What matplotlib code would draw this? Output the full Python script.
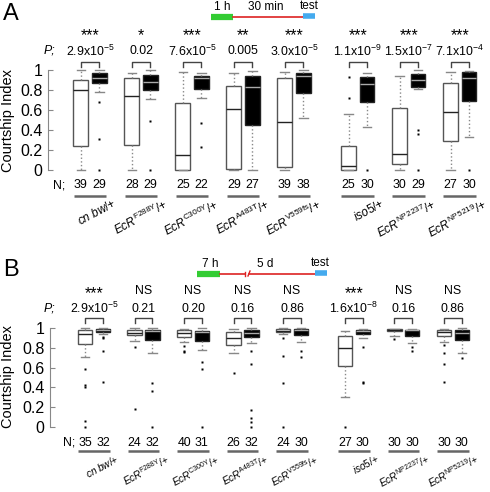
import numpy as np
import matplotlib as mpl
mpl.use('Agg')
import matplotlib.pyplot as plt
from matplotlib import font_manager

names = {f.name for f in font_manager.fontManager.ttflist}
NARROW = 'Liberation Sans Narrow' if 'Liberation Sans Narrow' in names else 'Liberation Sans'
k = 1.0 if NARROW == 'Liberation Sans Narrow' else 0.85  # shrink if no narrow face

plt.rcParams['font.family'] = [NARROW, 'DejaVu Sans']
plt.rcParams['mathtext.fontset'] = 'custom'
plt.rcParams['mathtext.rm'] = NARROW
plt.rcParams['mathtext.it'] = NARROW + ':italic'
plt.rcParams['mathtext.bf'] = NARROW + ':bold'

# ---- data ----
genotypes = [r'$\mathit{cn\ bw}$/+', r'$\mathit{EcR}^{\mathrm{F288Y}}$/+',
             r'$\mathit{EcR}^{\mathrm{C300Y}}$/+', r'$\mathit{EcR}^{\mathrm{A483T}}$/+',
             r'$\mathit{EcR}^{\mathrm{V559fs}}$/+', r'$\mathit{iso5}$/+',
             r'$\mathit{EcR}^{\mathrm{NP2237}}$/+', r'$\mathit{EcR}^{\mathrm{NP5219}}$/+']
group_pos = [0, 1, 2, 3, 4, 5.25, 6.25, 7.25]

# box stats: whislo, q1, med, q3, whishi
a_white = [[0, 0.24, 0.80, 0.90, 1.0], [0, 0.25, 0.74, 0.92, 0.975],
           [0, 0, 0.15, 0.675, 0.977], [0, 0.01, 0.61, 0.84, 0.973],
           [0, 0.037, 0.48, 0.917, 0.983], [0, 0, 0.04, 0.24, 0.56],
           [0, 0.063, 0.16, 0.62, 0.94], [0, 0.29, 0.58, 0.867, 0.983]]
a_white_fl = [[], [], [], [], [], [0.72, 0.93], [], []]
a_black = [[0.78, 0.87, 0.92, 0.97, 1.0], [0.71, 0.80, 0.88, 0.95, 1.0],
           [0.72, 0.81, 0.92, 0.94, 0.973], [0, 0.45, 0.835, 0.94, 0.99],
           [0.52, 0.767, 0.94, 0.973, 1.0], [0.43, 0.68, 0.857, 0.927, 0.97],
           [0.81, 0.835, 0.90, 0.96, 1.0], [0.335, 0.69, 0.923, 0.977, 0.987]]
a_black_fl = [[0.68, 0.31, 0.0], [0.49, 0.0], [0.47, 0.23], [], [], [0.0],
              [0.40, 0.36, 0.0], [0.0]]
a_n_white = [39, 28, 25, 29, 39, 25, 30, 27]
a_n_black = [29, 29, 22, 27, 38, 30, 29, 30]
a_p = ['2.9x10$^{-5}$', '0.02', '7.6x10$^{-5}$', '0.005', '3.0x10$^{-5}$',
       '1.1x10$^{-9}$', '1.5x10$^{-7}$', '7.1x10$^{-4}$']
a_stars = ['***', '*', '***', '**', '***', '***', '***', '***']

b_white = [[0.71, 0.837, 0.94, 0.98, 1.0], [0.87, 0.927, 0.953, 0.983, 1.0],
           [0.86, 0.913, 0.95, 0.98, 0.993], [0.743, 0.833, 0.903, 0.963, 0.987],
           [0.943, 0.957, 0.973, 0.99, 1.0], [0.303, 0.62, 0.80, 0.92, 0.97],
           [0.92, 0.967, 0.977, 0.987, 0.993], [0.863, 0.92, 0.96, 0.977, 0.993]]
b_white_fl = [[0.59, 0.42, 0.40, 0.06, 0.0], [0.81, 0.177], [0.817, 0.77, 0.76],
              [0.547], [0.897, 0.713, 0.447, 0.0], [0.0], [0.887],
              [0.827, 0.747, 0.637, 0.453]]
b_black = [[0.943, 0.963, 0.98, 0.993, 1.0], [0.747, 0.877, 0.973, 0.983, 1.0],
           [0.78, 0.87, 0.957, 0.97, 1.0], [0.85, 0.913, 0.95, 0.98, 1.0],
           [0.86, 0.93, 0.983, 0.993, 1.0], [0.897, 0.943, 0.967, 0.98, 0.99],
           [0.847, 0.923, 0.977, 0.98, 0.99], [0.75, 0.883, 0.953, 0.98, 1.0]]
b_black_fl = [[0.91, 0.90, 0.77, 0.45], [0.447, 0.363, 0.0], [0.66, 0.587, 0.0],
              [0.77, 0.64, 0.17, 0.09, 0.05, 0.0], [0.77, 0.71],
              [0.813, 0.45, 0.44], [0.81, 0.767], [0.70]]
b_n_white = [35, 24, 40, 26, 24, 27, 30, 30]
b_n_black = [32, 32, 31, 32, 30, 30, 30, 30]
b_p = ['2.9x10$^{-5}$', '0.21', '0.20', '0.16', '0.86',
       '1.6x10$^{-8}$', '0.16', '0.86']
b_stars = ['***', 'NS', 'NS', 'NS', 'NS', '***', 'NS', 'NS']

W, H = 490, 492
fig = plt.figure(figsize=(W / 100, H / 100), dpi=100)


def px_axes(left, top, right, bottom):
    return fig.add_axes([left / W, 1 - bottom / H, (right - left) / W, (bottom - top) / H])


def to_stats(rows, fliers):
    return [dict(whislo=r[0], q1=r[1], med=r[2], q3=r[3], whishi=r[4], fliers=f)
            for r, f in zip(rows, fliers)]


def draw_panel(ax, white, white_fl, black, black_fl, n_w, n_b, pvals, stars,
               xlim, y_star, y_p, y_br, y_n, y_ul, y_lab, x_P, x_N, lab_fs):
    pos = np.array(group_pos)
    common = dict(widths=0.29, capwidths=0.17, manage_ticks=False, patch_artist=True,
                  whiskerprops=dict(color='#888888', ls=':', lw=1),
                  capprops=dict(color='#888888', lw=1),
                  flierprops=dict(marker='s', ms=1.6, mfc='k', mec='none'))
    r1 = ax.bxp(to_stats(white, white_fl), positions=pos - 0.18,
                boxprops=dict(facecolor='white', edgecolor='#555555', lw=1),
                medianprops=dict(color='#222222', lw=1), **common)
    r2 = ax.bxp(to_stats(black, black_fl), positions=pos + 0.18,
                boxprops=dict(facecolor='black', edgecolor='#222222', lw=1),
                medianprops=dict(color='#aaaaaa', lw=1), **common)
    for r in (r1, r2):
        for arts in r.values():
            for a in arts:
                a.set_clip_on(False)

    ax.set_xlim(*xlim)
    ax.set_ylim(0, 1)
    ax.set_yticks([0, 0.2, 0.4, 0.6, 0.8, 1])
    ax.set_yticklabels(['0', '0.2', '0.4', '0.6', '0.8', '1'], fontsize=11.5,
                       family='Liberation Sans')
    ax.tick_params(axis='y', direction='in', length=3.5, color='#888888', pad=4)
    ax.set_xticks([])
    for s in ('top', 'right', 'bottom'):
        ax.spines[s].set_visible(False)
    ax.spines['left'].set_color('#888888')
    ax.spines['left'].set_bounds(0, 1)
    ax.patch.set_alpha(0)

    ax.text(x_P, y_p, 'P;', style='italic', fontsize=10.5 * k, ha='right', va='center')
    ax.text(x_N, y_n, 'N;', fontsize=10.5 * k, ha='right', va='center')
    for i, p in enumerate(pos):
        if stars[i] == 'NS':
            ax.text(p, y_star, 'NS', fontsize=10.5 * k, ha='center', va='center')
        else:
            ax.text(p, y_star - 0.065, stars[i], fontsize=11.5, family='Liberation Sans',
                    ha='center', va='baseline')
        ax.text(p, y_p, pvals[i], fontsize=10.5 * k, ha='center', va='center')
        ax.plot([p - 0.18, p - 0.18, p + 0.18, p + 0.18],
                [y_br - 0.045, y_br, y_br, y_br - 0.045],
                color='#444444', lw=1, clip_on=False)
        ax.text(p - 0.18, y_n, str(n_w[i]), fontsize=10.5 * k, ha='center', va='center')
        ax.text(p + 0.18, y_n, str(n_b[i]), fontsize=10.5 * k, ha='center', va='center')
        ax.plot([p - 0.32, p + 0.32], [y_ul, y_ul], color='#666666', lw=1.8,
                clip_on=False, solid_capstyle='butt')
        ax.text(p + 0.44, y_lab, genotypes[i], fontsize=lab_fs, rotation=28,
                ha='right', va='top', rotation_mode='anchor')


# panel A
axA = px_axes(48, 70, 487.8, 170.3)
draw_panel(axA, a_white, a_white_fl, a_black, a_black_fl, a_n_white, a_n_black,
           a_p, a_stars, (-0.824, 7.8), 1.36, 1.19, 1.075, -0.147, -0.253, -0.265,
           -0.68, -0.49, 10 * k)

# panel B
axB = px_axes(50, 328, 490, 427)
draw_panel(axB, b_white, b_white_fl, b_black, b_black_fl, b_n_white, b_n_black,
           b_p, b_stars, (-0.889, 8.0), 1.37, 1.195, 1.10, -0.16, -0.245, -0.255,
           -0.79, -0.38, 8.5 * k)

fig.text(8 / W, 1 - 120 / H, 'Courtship Index', rotation=90, fontsize=10.5,
         family='Liberation Sans', ha='center', va='center')
fig.text(8 / W, 1 - 377 / H, 'Courtship Index', rotation=90, fontsize=10.5,
         family='Liberation Sans', ha='center', va='center')

# overlay in pixel coords for panel letters and timelines
ov = fig.add_axes([0, 0, 1, 1])
ov.set_xlim(0, W)
ov.set_ylim(H, 0)
ov.axis('off')
ov.text(3, 14, 'A', fontsize=17, family='Liberation Sans', ha='left', va='center')
ov.text(3, 270, 'B', fontsize=17, family='Liberation Sans', ha='left', va='center')

green = '#33cc33'
red = '#dd2222'
blue = '#44aaee'
# A timeline
ov.plot([211, 233], [16.7, 16.7], color=green, lw=4.5, solid_capstyle='butt')
ov.plot([233, 303], [16.7, 16.7], color=red, lw=1.2)
ov.plot([303, 315], [16.0, 16.0], color=blue, lw=4, solid_capstyle='butt')
ov.text(222, 13, '1 h', fontsize=10 * k, ha='center', va='bottom')
ov.text(266, 13, '30 min', fontsize=10 * k, ha='center', va='bottom')
ov.text(309, 12, 'test', fontsize=10 * k, ha='center', va='bottom')
# B timeline
ov.plot([197, 220], [273.5, 273.5], color=green, lw=4.5, solid_capstyle='butt')
ov.plot([220, 245], [273.5, 273.5], color=red, lw=1.2)
ov.plot([249, 315], [273.5, 273.5], color=red, lw=1.2)
ov.plot([245, 245], [271.5, 275.5], color=red, lw=1)
ov.plot([248, 250], [276, 271], color=red, lw=1)
ov.plot([315, 327], [273.0, 273.0], color=blue, lw=4, solid_capstyle='butt')
ov.text(210, 270, '7 h', fontsize=10 * k, ha='center', va='bottom')
ov.text(265, 270, '5 d', fontsize=10 * k, ha='center', va='bottom')
ov.text(320, 269, 'test', fontsize=10 * k, ha='center', va='bottom')

fig.savefig('out.png', dpi=100)
